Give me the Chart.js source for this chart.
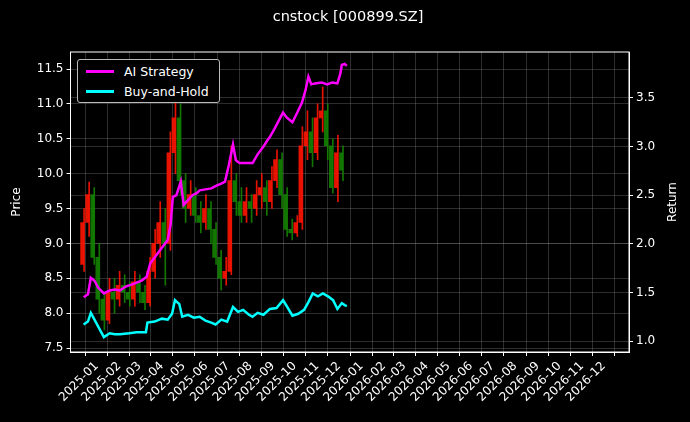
<!DOCTYPE html>
<html><head><meta charset="utf-8">
<script src="https://cdn.jsdelivr.net/npm/chart.js@4"></script>
<style>
html,body{margin:0;padding:0;background:#000;}
#wrap{position:relative;width:690px;height:422px;font-family:"DejaVu Sans",sans-serif;}
#title{position:absolute;left:0;width:696px;top:8px;text-align:center;color:#fff;font-size:14.5px;}
#legend{position:absolute;left:77px;top:59px;width:143px;height:44px;border:1px solid #bbb;border-radius:3px;background:#000;color:#fff;font-size:12.5px;box-sizing:border-box;}
.li{position:absolute;left:8px;display:flex;align-items:center;}
.sw{width:28px;height:2.5px;margin-right:10px;}
</style></head><body>
<div id="wrap">
<canvas id="c" width="690" height="422"></canvas>
<div id="title">cnstock [000899.SZ]</div>
<div id="legend">
<div class="li" style="top:4px"><div class="sw" style="background:#ff00ff"></div>AI Strategy</div>
<div class="li" style="top:24px"><div class="sw" style="background:#00ffff"></div>Buy-and-Hold</div>
</div>
</div>
<script>
const candleDates=["2024-12-14","2024-12-21","2024-12-28","2025-01-04","2025-01-11","2025-01-18","2025-01-25","2025-02-01","2025-02-08","2025-02-15","2025-02-22","2025-03-01","2025-03-08","2025-03-15","2025-03-22","2025-03-29","2025-04-05","2025-04-12","2025-04-19","2025-04-26","2025-05-03","2025-05-10","2025-05-17","2025-05-24","2025-05-31","2025-06-07","2025-06-14","2025-06-21","2025-06-28","2025-07-05","2025-07-12","2025-07-19","2025-07-26","2025-08-02","2025-08-09","2025-08-16","2025-08-23","2025-08-30","2025-09-06","2025-09-13","2025-09-20","2025-09-27","2025-10-04","2025-10-11","2025-10-18","2025-10-25","2025-11-01","2025-11-08","2025-11-15","2025-11-22","2025-11-29","2025-12-06"];
const openP =[8.7,9.3,9.7,8.8,8.2,7.9,8.3,8.2,8.4,8.3,8.2,8.45,8.3,8.15,8.6,9.0,9.3,9.0,10.3,10.8,9.9,9.5,9.7,9.4,9.3,9.5,9.2,8.8,8.5,8.6,9.9,9.6,9.4,9.6,9.5,9.7,9.8,9.6,9.9,10.2,9.7,9.2,9.15,9.3,10.4,10.6,10.3,10.8,10.9,10.4,9.8,10.3];
const closeP=[9.3,9.7,8.8,8.2,7.9,8.3,8.2,8.4,8.3,8.2,8.45,8.3,8.15,8.6,9.0,9.3,9.0,10.3,10.8,9.9,9.5,9.7,9.4,9.3,9.5,9.2,8.8,8.5,8.6,9.9,9.6,9.4,9.6,9.5,9.7,9.8,9.6,9.9,10.2,9.7,9.2,9.15,9.3,10.4,10.6,10.3,10.8,10.9,10.4,9.8,10.3,10.05];
const highP =[9.5,9.88,9.8,9.0,8.3,8.5,8.5,8.6,8.55,8.45,8.6,8.55,8.4,8.8,9.2,9.6,9.5,10.6,11.15,11.0,10.0,9.9,9.8,9.6,9.7,9.6,9.3,8.9,8.8,10.4,10.0,9.8,9.8,9.7,9.9,10.0,9.9,10.1,10.34,10.3,9.8,9.35,9.4,10.67,10.9,10.8,11.0,11.24,11.0,10.5,10.55,10.4];
const lowP  =[8.6,9.1,8.7,8.0,7.76,7.85,8.0,8.1,8.15,8.1,8.1,8.15,8.05,8.1,8.5,8.8,8.4,8.9,10.0,9.7,9.3,9.4,9.3,9.15,9.2,9.0,8.7,8.33,8.4,8.55,9.4,9.3,9.3,9.3,9.4,9.5,9.4,9.5,9.8,9.5,9.1,9.05,9.1,9.2,10.2,10.1,10.2,10.6,10.2,9.72,9.6,9.9];
const aiDays=[-18,-12,-8,-3,2,10,18,25,32,40,48,55,62,69,74,80,86,92,98,102,105,110,116,120,126,132,138,142,150,158,166,172,177,182,188,192,197,205,215,222,230,235,239,245,252,257,262,270,276,283,288,292,296,301,310,318,325,332,336,338,342,345];
const aiVals=[1.45,1.48,1.65,1.62,1.55,1.49,1.52,1.53,1.52,1.56,1.58,1.60,1.62,1.66,1.80,1.86,1.92,1.98,2.04,2.20,2.48,2.50,2.64,2.40,2.45,2.50,2.52,2.55,2.56,2.57,2.60,2.62,2.64,2.80,3.02,2.86,2.83,2.83,2.83,2.92,3.0,3.06,3.10,3.18,3.28,3.35,3.30,3.25,3.34,3.45,3.58,3.72,3.64,3.65,3.66,3.64,3.66,3.65,3.75,3.84,3.85,3.83];
const bhDays=[-18,-12,-8,-3,2,10,18,25,32,45,55,68,70,80,90,98,104,108,114,118,126,134,142,150,158,164,172,180,188,195,202,210,215,222,230,239,248,257,262,270,278,286,292,298,305,312,319,326,332,338,342,345];
const bhVals=[1.17,1.20,1.29,1.22,1.15,1.04,1.08,1.07,1.07,1.08,1.09,1.09,1.19,1.20,1.23,1.22,1.28,1.42,1.38,1.25,1.27,1.24,1.25,1.21,1.19,1.17,1.22,1.20,1.35,1.30,1.32,1.27,1.25,1.29,1.27,1.33,1.34,1.42,1.36,1.26,1.28,1.32,1.40,1.49,1.46,1.49,1.46,1.42,1.33,1.39,1.37,1.36];
const monthLabels=["2025-01","2025-02","2025-03","2025-04","2025-05","2025-06","2025-07","2025-08","2025-09","2025-10","2025-11","2025-12","2026-01","2026-02","2026-03","2026-04","2026-05","2026-06","2026-07","2026-08","2026-09","2026-10","2026-11","2026-12"];

const T0=Date.UTC(2025,0,1);
const dayOf=s=>{const [y,m,d]=s.split("-").map(Number);return (Date.UTC(y,m-1,d)-T0)/86400000;};
const monthDays=monthLabels.map(l=>dayOf(l+"-01"));
const cx=candleDates.map(dayOf);
const up=openP.map((o,i)=>closeP[i]>=o);
const cols=up.map(u=>u?'rgba(255,20,0,0.9)':'rgba(20,130,0,0.9)');
const wick=cx.map((x,i)=>({x,y:[lowP[i],highP[i]]}));
const body=cx.map((x,i)=>({x,y:[openP[i],closeP[i]]}));
const grid={color:'rgba(130,130,130,0.35)',borderDash:[2,2],tickColor:'#fff',tickLength:4};
const tk={color:'#fff',font:{family:'DejaVu Sans',size:12}};
const frame={id:'frame',afterDraw(c){const a=c.chartArea,g=c.ctx;g.save();g.strokeStyle='#fff';g.lineWidth=1;g.strokeRect(a.left,a.top,a.right-a.left,a.bottom-a.top);
 g.fillStyle='#fff';g.font='12px "DejaVu Sans"';g.textAlign='center';g.textBaseline='middle';
 const cy=(a.top+a.bottom)/2;
 g.save();g.translate(17,cy);g.rotate(-Math.PI/2);g.fillText('Price',0,0);g.restore();
 g.save();g.translate(673,cy);g.rotate(-Math.PI/2);g.fillText('Return',0,0);g.restore();
 g.restore();}};
new Chart(document.getElementById('c'),{
 data:{datasets:[
  {type:'bar',data:wick,backgroundColor:cols,barThickness:1,yAxisID:'y',order:3},
  {type:'bar',data:body,backgroundColor:cols,barThickness:3,yAxisID:'y',order:2},
  {type:'line',data:aiDays.map((x,i)=>({x,y:aiVals[i]})),borderColor:'#ff00ff',borderWidth:2.5,pointRadius:0,tension:0,yAxisID:'y2',order:1},
  {type:'line',data:bhDays.map((x,i)=>({x,y:bhVals[i]})),borderColor:'#00ffff',borderWidth:2.5,pointRadius:0,tension:0,yAxisID:'y2',order:1}
 ]},
 options:{responsive:false,animation:false,layout:{padding:{top:52,left:0,right:0,bottom:0}},
  plugins:{legend:{display:false},tooltip:{enabled:false}},
  scales:{
   x:{type:'linear',min:-20,max:718,grid:grid,border:{color:'#fff'},
      afterBuildTicks:s=>{s.ticks=monthDays.map(v=>({value:v}));},
      afterFit:s=>{s.height=70;},
      ticks:{...tk,autoSkip:false,minRotation:45,maxRotation:45,callback:(v)=>{const i=monthDays.indexOf(v);return i>=0?monthLabels[i]:'';}}},
   y:{position:'left',min:7.443,max:11.744,grid:grid,border:{color:'#fff'},
      afterBuildTicks:s=>{s.ticks=[7.5,8,8.5,9,9.5,10,10.5,11,11.5].map(v=>({value:v}));},
      afterFit:s=>{s.width=70.5;},
      ticks:{...tk,callback:v=>v.toFixed(1)}},
   y2:{position:'right',min:0.887,max:3.973,grid:grid,border:{color:'#fff'},
      afterBuildTicks:s=>{s.ticks=[1,1.5,2,2.5,3,3.5].map(v=>({value:v}));},
      afterFit:s=>{s.width=61;},
      ticks:{...tk,callback:v=>v.toFixed(1)}}
  }},
 plugins:[frame]
});
</script></body></html>
